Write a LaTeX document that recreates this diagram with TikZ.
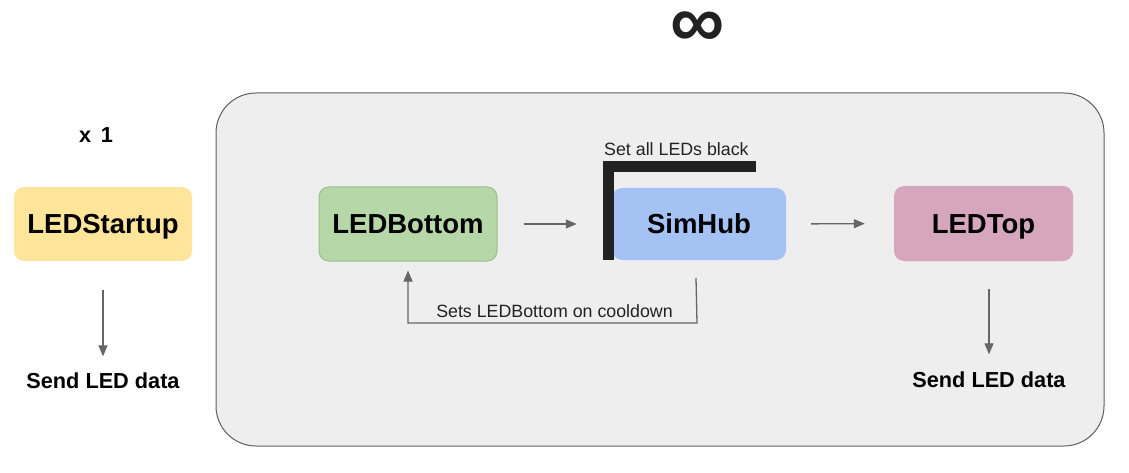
\documentclass[tikz,border=0pt]{standalone}
\usepackage{fontspec}
\setmainfont{Liberation Sans}
\usetikzlibrary{arrows.meta}
\definecolor{contfill}{HTML}{EEEEEE}
\definecolor{contline}{HTML}{5F5F5F}
\definecolor{startfill}{HTML}{FFE599}
\definecolor{bottomfill}{HTML}{B6D7A8}
\definecolor{bottomline}{HTML}{93C47D}
\definecolor{hubfill}{HTML}{A4C2F4}
\definecolor{topfill}{HTML}{D5A6BD}
\definecolor{barcol}{HTML}{222222}
\definecolor{arrcol}{HTML}{666666}
\tikzset{
  box/.style={rounded corners=10pt, minimum width=178pt, minimum height=74pt, inner sep=0pt,
    text height=19.4pt, text depth=0pt,
    font=\fontsize{27.5}{32}\selectfont\bfseries},
  arr/.style={draw=arrcol, line width=1.3pt, -{Triangle[length=11pt,width=9pt]}},
  boldlabel/.style={font=\fontsize{21.7}{25}\selectfont\bfseries, inner sep=3pt},
  smalllabel/.style={font=\fontsize{17.8}{20}\selectfont, text=barcol, inner sep=0pt}
}
\begin{document}
\begin{tikzpicture}[x=1pt,y=-1pt]
\useasboundingbox[fill=white] (0,0) rectangle (1129,473);
% container
\draw[fill=contfill, draw=contline, line width=1pt, rounded corners=40pt] (216,93) rectangle (1104,446);
% infinity
\node[font=\fontsize{76}{76}\selectfont\bfseries, text=barcol, inner sep=0pt] (inf) at (697.5,29.5) {∞};
% nodes
\node[box, fill=startfill] (start) at (103,224) {LEDStartup};
\node[box, fill=bottomfill, draw=bottomline, line width=1pt] (bottom) at (408,224) {LEDBottom};
\node[box, fill=hubfill, minimum width=174pt, minimum height=72pt] (hub) at (699,224) {SimHub};
\node[box, fill=topfill, minimum width=179pt, minimum height=75pt] (top) at (983.5,223.5) {LEDTop};
% labels
\node[boldlabel] (x1) at (96,135.5) {x\hspace{0.45em}1};
\node[boldlabel] (send1) at (103,380.5) {Send LED data};
\node[boldlabel] (send2) at (989,379.5) {Send LED data};
% black bracket
\fill[barcol] (603,161) rectangle (614,260);
\fill[barcol] (603,161) rectangle (756,172);
\node[smalllabel, anchor=base west] (blk) at (604,156) {Set all LEDs black};
% arrows
\draw[arr, shorten <=29pt, shorten >=13pt] (start.south) -- (send1.north);
\draw[arr, shorten <=28pt, shorten >=14pt] (top.south -| send2.north) -- (send2.north);
\draw[arr, shorten <=26pt, shorten >=35pt] (bottom.east) -- (hub.west);
\draw[arr, shorten <=25pt, shorten >=29pt] (hub.east) -- (top.west);
% feedback
\coordinate (fb) at (696,278);
\coordinate (fbc) at (697,323);
\draw[arr, shorten >=9pt] (fb) -- (fbc) -| (bottom.south);
\node[smalllabel, anchor=base] (cool) at (554.5,317) {Sets LEDBottom on cooldown};
\end{tikzpicture}
\end{document}
